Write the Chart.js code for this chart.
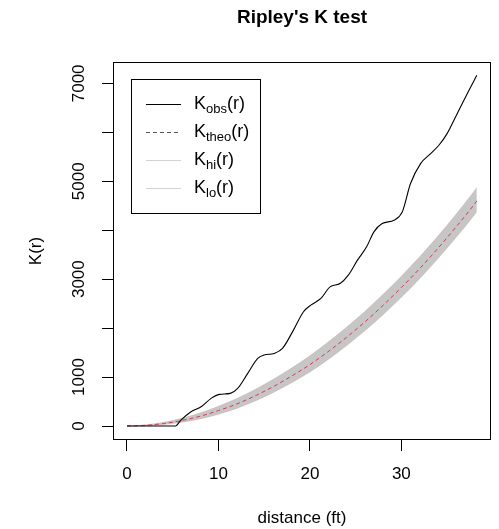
<!DOCTYPE html>
<html>
<head>
<meta charset="utf-8">
<script src="https://cdn.jsdelivr.net/npm/chart.js@4/dist/chart.umd.min.js"></script>
<style>
html,body{margin:0;padding:0;background:#fff;}
#wrap{width:499px;height:529px;position:relative;}
</style>
</head>
<body>
<div id="wrap"><canvas id="c" width="499" height="529"></canvas></div>
<script>
// ---- data ----
const obsR = [0, 5.3, 5.9, 7.0, 8.1, 9.2, 10.1, 11.3, 12.1, 13.2, 14.3, 15.0, 16.1, 17.0, 18.2, 19.3, 20.1, 21.2, 22.2, 23.3, 24.2, 25.2, 26.2, 27.0, 27.9, 29.2, 30.1, 31.0, 32.1, 33.2, 34.1, 35.0, 36.1, 37.2, 38.25];
const obsK = [0, 0, 122, 292, 394, 565, 646, 667, 769, 1075, 1381, 1449, 1483, 1585, 1959, 2333, 2469, 2606, 2843, 2912, 3082, 3388, 3660, 3966, 4136, 4204, 4374, 4953, 5361, 5565, 5735, 5973, 6381, 6789, 7163];
const envR = [0, 2, 4, 6, 8, 10, 12, 14, 16, 18, 20, 22, 24, 26, 28, 30, 32, 34, 36, 38, 38.25];
const theoK = [0, 13, 50, 113, 200, 315, 450, 615, 805, 1020, 1255, 1520, 1810, 2125, 2465, 2830, 3215, 3630, 4070, 4535, 4600];
const hiK = [0, 23, 75, 158, 265, 405, 560, 745, 955, 1185, 1435, 1715, 2015, 2340, 2690, 3060, 3455, 3880, 4330, 4805, 4870];
const loK = [0, 5, 30, 78, 145, 240, 360, 510, 685, 885, 1105, 1360, 1640, 1945, 2275, 2630, 3010, 3420, 3855, 4315, 4380];
const xTicks = [0, 10, 20, 30];
const yTicks = [0, 1000, 2000, 3000, 4000, 5000, 6000, 7000];
const yTickLabels = ['0', '1000', '', '3000', '', '5000', '', '7000'];
const titleText = "Ripley's K test";
const xTitle = 'distance (ft)';
const yTitle = 'K(r)';
const legendItems = [
  {main: 'K', sub: 'obs', color: '#000', dash: [], width: 1.2},
  {main: 'K', sub: 'theo', color: '#555', dash: [4, 3], width: 1},
  {main: 'K', sub: 'hi', color: '#d6d2d2', dash: [], width: 1},
  {main: 'K', sub: 'lo', color: '#d6d2d2', dash: [], width: 1}
];

const pts = (xs, ys) => xs.map((x, i) => ({x: x, y: ys[i]}));
const FONT = "'Liberation Sans', Arial, sans-serif";

const decor = {
  id: 'decor',
  afterDatasetsDraw(chart) {
    const ctx = chart.ctx;
    const a = chart.chartArea;
    const xs = chart.scales.x, ys = chart.scales.y;
    ctx.save();
    // plot box
    ctx.strokeStyle = '#000';
    ctx.lineWidth = 1;
    ctx.strokeRect(Math.round(a.left) + 0.5, Math.round(a.top) + 0.5, Math.round(a.right - a.left) - 1, Math.round(a.bottom - a.top) - 1);
    // title
    ctx.fillStyle = '#000';
    ctx.textAlign = 'center';
    ctx.textBaseline = 'middle';
    ctx.font = 'bold 19px ' + FONT;
    ctx.fillText(titleText, (a.left + a.right) / 2, 18);
    // x tick labels
    ctx.font = '17px ' + FONT;
    xTicks.forEach(v => ctx.fillText(String(v), xs.getPixelForValue(v), 474));
    // x title
    ctx.fillText(xTitle, (a.left + a.right) / 2, 518);
    // y tick labels (rotated)
    yTicks.forEach((v, i) => {
      if (!yTickLabels[i]) return;
      ctx.save();
      ctx.translate(79, ys.getPixelForValue(v));
      ctx.rotate(-Math.PI / 2);
      ctx.fillText(yTickLabels[i], 0, 0);
      ctx.restore();
    });
    // y title
    ctx.save();
    ctx.translate(36, (a.top + a.bottom) / 2);
    ctx.rotate(-Math.PI / 2);
    ctx.fillText(yTitle, 0, 0);
    ctx.restore();
    // legend
    const lx = 131, ly = 79, lw = 129, lh = 134;
    ctx.fillStyle = '#fff';
    ctx.fillRect(lx, ly, lw, lh);
    ctx.strokeStyle = '#000';
    ctx.strokeRect(lx + 0.5, ly + 0.5, lw, lh);
    legendItems.forEach((it, i) => {
      const y = 104 + i * 28;
      ctx.beginPath();
      ctx.strokeStyle = it.color;
      ctx.lineWidth = it.width;
      ctx.setLineDash(it.dash);
      ctx.moveTo(146, y + 0.5);
      ctx.lineTo(181, y + 0.5);
      ctx.stroke();
      ctx.setLineDash([]);
      ctx.fillStyle = '#000';
      ctx.textAlign = 'left';
      ctx.textBaseline = 'middle';
      ctx.font = '18px ' + FONT;
      let x = 194;
      ctx.fillText(it.main, x, y);
      x += ctx.measureText(it.main).width;
      ctx.font = '13px ' + FONT;
      ctx.fillText(it.sub, x, y + 5);
      x += ctx.measureText(it.sub).width;
      ctx.font = '18px ' + FONT;
      ctx.fillText('(r)', x, y);
    });
    ctx.restore();
  }
};

new Chart(document.getElementById('c'), {
  type: 'line',
  data: {
    datasets: [
      {label: 'hi', data: pts(envR, hiK), borderColor: 'rgba(200,150,155,0.35)', borderWidth: 1,
       backgroundColor: '#c6c6c6', fill: '+1', pointRadius: 0, order: 4, cubicInterpolationMode: 'monotone'},
      {label: 'lo', data: pts(envR, loK), borderColor: 'rgba(200,150,155,0.35)', borderWidth: 1,
       fill: false, pointRadius: 0, order: 3, cubicInterpolationMode: 'monotone'},
      {label: 'theo', data: pts(envR, theoK), borderColor: '#d23c55', borderWidth: 1, borderDash: [4, 3],
       fill: false, pointRadius: 0, order: 2, cubicInterpolationMode: 'monotone'},
      {label: 'obs', data: pts(obsR, obsK), borderColor: '#000', borderWidth: 1.1,
       fill: false, pointRadius: 0, order: 1, cubicInterpolationMode: 'monotone'}
    ]
  },
  options: {
    responsive: false,
    animation: false,
    events: [],
    layout: {padding: {top: 62, right: 8, left: 0, bottom: 0}},
    plugins: {legend: {display: false}, tooltip: {enabled: false}, title: {display: false}},
    scales: {
      x: {
        type: 'linear', min: -1.53, max: 39.8,
        afterBuildTicks: s => { s.ticks = xTicks.map(v => ({value: v})); },
        afterFit: s => { s.height = 89; },
        ticks: {display: false},
        border: {display: false},
        grid: {display: true, drawOnChartArea: false, drawTicks: true, tickLength: 11, color: '#000', lineWidth: 1}
      },
      y: {
        type: 'linear', min: -286, max: 7436,
        afterBuildTicks: s => { s.ticks = yTicks.map(v => ({value: v})); },
        afterFit: s => { s.width = 113; },
        ticks: {display: false},
        border: {display: false},
        grid: {display: true, drawOnChartArea: false, drawTicks: true, tickLength: 11, color: '#000', lineWidth: 1}
      }
    }
  },
  plugins: [decor]
});
</script>
</body>
</html>
